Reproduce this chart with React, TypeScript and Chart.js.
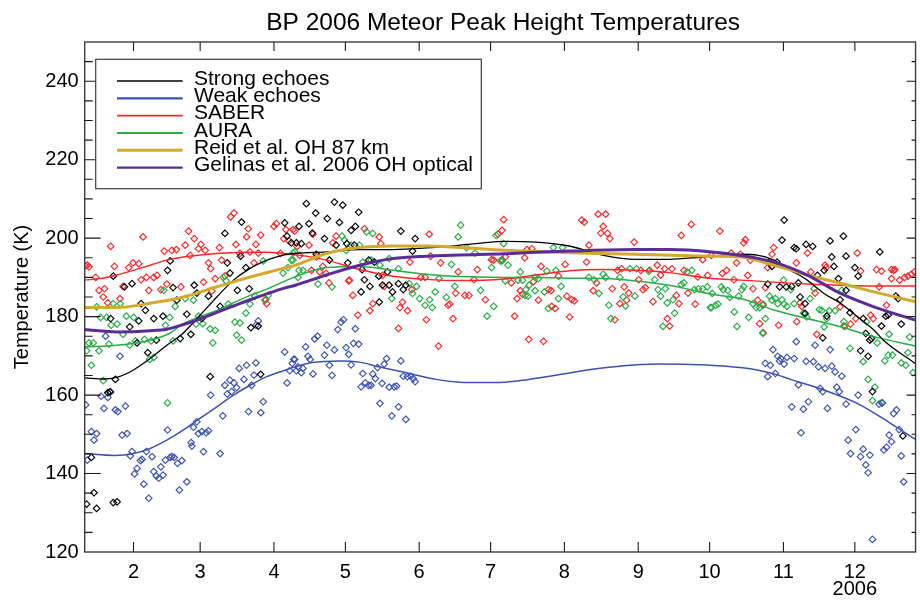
import React, { useEffect, useRef } from 'react';
import { Chart, registerables } from 'chart.js';

Chart.register(...registerables);

const TITLE = 'BP 2006 Meteor Peak Height Temperatures';
const Y_TITLE = 'Temperature (K)';
const MONTH_TICKS = [32, 60, 91, 121, 152, 182, 213, 244, 274, 305, 335];
const MONTH_LABELS = ['2', '3', '4', '5', '6', '7', '8', '9', '10', '11', '12'];
const YEAR_LABEL = '2006';
const Y_MAJOR = [120, 140, 160, 180, 200, 220, 240];
const Y_MINOR_STEP = 5;
const X_MIN = 11.5;
const X_MAX = 360.5;
const Y_MIN = 120;
const Y_MAX = 250;

const LEGEND_LABELS = [
  'Strong echoes',
  'Weak echoes',
  'SABER',
  'AURA',
  'Reid et al. OH 87 km',
  'Gelinas et al. 2006 OH optical',
];

// fitted curves [day of year, K]
const STRONG_FIT = [[11.5,164.4],[20,164.1],[26,164.7],[32,166.4],[39,169.3],[46,172.7],[52,175.3],[60,180.4],[67,185],[74,189.3],[81,192.3],[88,194.4],[95,195.7],[100,196.1],[113,196.5],[127,197.1],[141,197.1],[155,197.5],[176,198.6],[188,199.2],[201,199],[215,198],[229,195.7],[243,194.6],[257,194.6],[271,195.2],[287,195.9],[294,195.7],[301,194.4],[308,191.8],[315,189.3],[322,185.9],[329,183.4],[336,180],[343,176.6],[347,174],[360.5,168]];
const WEAK_FIT = [[11.5,145.1],[24,144.6],[32,145.1],[39,146.4],[46,148.5],[53,151.1],[60,154.1],[67,157],[74,160],[81,162.5],[88,164.7],[95,166.2],[100,167.2],[107,168.3],[119,168.7],[127,168.4],[135,167.2],[148,165.5],[159,164],[169,163.3],[177,163.2],[188,163.3],[196,163.8],[210,165.1],[224,166.5],[238,167.5],[252,167.9],[266,167.8],[280,167.4],[294,166.4],[301,165.4],[308,164],[322,161.3],[336,157.9],[350,152.8],[360.5,148.7]];
const SABER_FIT = [[11.5,189.3],[18,189.7],[25,190.6],[32,191.8],[39,193.1],[46,194.4],[53,195.2],[67,196.1],[74,196.3],[81,196.4],[88,196.4],[95,196.1],[100,195.8],[113,194.4],[127,192],[141,190.3],[155,189.5],[169,189.2],[188,189.6],[201,190.6],[215,191.7],[229,192],[243,191.8],[257,191.2],[275,189.7],[287,189.3],[315,188.3],[343,187.8],[360.5,187.8]];
const AURA_FIT = [[11.5,172.3],[25,172.7],[39,174],[47,175.7],[53,178.2],[67,181.6],[81,185.4],[88,187],[100,190.2],[113,192.5],[127,192.8],[141,191.8],[155,190.8],[169,190.2],[188,190],[201,190],[215,189.8],[229,189.7],[243,189.1],[257,188],[275,185.7],[287,184.6],[301,181.7],[315,179.5],[329,177.4],[343,174.9],[360.5,172.5]];
const REID_FIT = [[11.5,182.3],[25,182.3],[39,183.4],[53,185],[67,187.6],[81,190.1],[95,192.3],[100,193.1],[113,196.1],[127,197.6],[141,198],[155,198],[169,197.6],[188,196.9],[215,196.3],[243,195.9],[275,195.4],[287,195.2],[301,193.1],[315,190.6],[329,188.5],[343,186.3],[360.5,183.8]];
const GELINAS_FIT = [[11.5,176.7],[25,176.1],[39,176.4],[46,176.8],[53,178],[60,179.4],[67,181.1],[74,182.7],[81,184.3],[88,185.8],[95,187.2],[100,188],[113,190.6],[127,193.1],[141,194.8],[155,195.4],[169,195.7],[188,196],[201,196.4],[215,196.7],[243,197.1],[257,197.1],[275,196.5],[287,195.6],[301,193.9],[315,190.6],[329,185.9],[343,182.5],[360.5,179.1]];

// measurements [day of year, K]
const STRONG_PTS = [[23.5,190.3],[28.2,187.6],[31.4,188.4],[35.2,183.3],[37.0,181.6],[40.5,179.5],[34.2,178.9],[30.4,177.4],[22.4,179.5],[44.4,180.1],[46.3,191.8],[47.4,194.2],[48.6,187.4],[50.2,184.2],[54.4,180.6],[56.1,175.5],[57.5,188.0],[58.6,186.0],[60.7,179.5],[63.5,185.2],[68.4,182.6],[70.4,201.2],[71.4,193.7],[72.5,191.1],[75.6,186.7],[77.4,204.1],[77.0,195.4],[79.2,192.5],[80.6,187.1],[81.3,177.2],[84.4,177.6],[95.5,203.9],[96.5,200.5],[98.3,198.8],
[24.4,164.0],[38.0,170.8],[64.2,164.7],[85.4,165.3],[21.2,160.6],[22.1,160.8],[14.3,144.1],[15.4,135.1],[12.3,132.2],[16.5,131.1],[25.1,132.8],[23.5,132.6],[41.6,174.0],[51.6,174.4],[33.5,173.3],
[104.6,208.8],[116.4,209.2],[119.9,208.4],[108.5,206.4],[113.4,205.0],[118.5,204.0],[126.6,206.6],[101.5,203.0],[105.7,203.7],[107.1,201.3],[112.2,199.9],[123.4,202.0],[125.2,203.0],[100.4,198.8],[102.5,198.6],[117.1,198.2],[121.6,198.6],[124.8,198.2],[108.8,195.9],[114.3,194.4],[122.0,193.7],[128.0,192.0],[129.0,189.4],[130.8,194.4],[133.2,193.9],[131.3,187.7],[135.0,190.3],[136.6,188.0],[138.7,191.4],[139.4,188.0],[140.8,186.3],[143.3,188.4],[145.3,186.9],[146.4,188.0],[144.3,201.8],[150.3,199.9],[149.2,196.7],[135.2,183.7],[127.6,186.3],
[305.3,204.6],[304.4,199.5],[309.5,197.6],[310.4,197.3],[314.5,198.4],[317.3,197.9],[324.6,199.3],[330.2,200.5],[345.5,196.5],[325.3,195.2],[331.3,195.4],[298.8,193.9],[302.3,193.9],[300.2,192.8],[298.4,188.3],[303.4,187.6],[306.2,187.6],[308.5,187.7],[311.3,188.6],[312.0,185.0],[314.1,183.3],[314.1,180.8],[319.3,190.5],[322.1,191.8],[326.2,192.8],[328.1,189.7],[335.0,192.5],[336.4,190.3],[331.3,186.7],[328.8,184.3],[323.2,180.1],[333.0,181.0],[338.5,179.5],[352.2,185.2],[353.2,184.6],[349.0,180.4],[348.0,180.1],[346.2,177.6],[342.0,174.4],[321.5,174.6],
[337.4,171.3],[340.6,169.9],[342.4,160.9],[355.2,149.6],[339.6,175.7],[341.3,174.0],[354.5,178.1]];

const WEAK_PTS = [[20.3,175.0],[84.4,178.9],[83.4,177.8],
[26.3,169.9],[11.9,157.5],[18.4,159.7],[21.2,159.4],[22.4,160.8],[19.6,156.6],[24.4,156.2],[25.4,155.8],[28.6,157.2],[14.3,150.7],[16.5,150.2],[15.4,148.5],[12.6,143.4],[27.2,149.8],[29.3,150.2],[30.7,144.5],[31.4,145.6],[33.5,141.3],[32.4,139.9],[34.9,143.3],[35.6,143.6],[36.3,137.3],[37.4,145.6],[38.4,133.7],[39.8,144.3],[40.5,140.5],[41.6,139.4],[42.6,138.8],[43.5,141.7],[44.4,139.6],[45.4,143.4],[46.3,151.1],[47.4,144.1],[48.1,144.3],[49.1,144.1],[50.5,142.6],[51.3,135.8],[52.3,143.3],[54.4,137.9],[56.2,147.9],[56.5,147.0],[57.2,151.8],[58.6,153.2],[59.3,150.2],[60.7,150.7],[62.5,150.4],[63.5,150.9],[61.4,145.6],[64.4,160.0],[68.4,145.1],[69.5,154.7],[70.4,162.5],[71.4,160.3],[72.5,163.8],[73.2,160.9],[74.2,163.1],[75.3,161.9],[76.4,166.8],[78.4,164.0],[79.5,167.6],[80.3,155.8],[81.6,162.5],[82.6,165.1],[83.4,168.2],[85.5,155.5],[86.5,158.3],[95.5,171.0],[96.5,163.1],[97.6,166.2],[98.7,168.1],[99.3,169.1],
[120.2,179.2],[119.2,178.6],[117.8,176.7],[125.2,176.9],[109.3,175.0],[108.1,174.3],
[104.3,172.3],[113.2,172.7],[116.4,171.5],[121.3,172.1],[124.4,173.2],[126.6,173.0],[122.4,170.4],[112.2,170.2],[105.3,169.9],[106.2,169.1],[99.7,169.1],[101.1,167.2],[103.2,166.8],[100.4,166.2],[102.5,165.7],[107.4,165.4],[114.3,167.6],[115.4,165.0],[123.4,167.7],[128.3,165.5],[129.4,163.1],[127.6,162.1],[130.8,162.5],[131.8,162.5],[132.5,165.4],[133.6,164.2],[134.5,167.0],[136.4,163.0],[137.3,167.9],[138.3,169.3],[139.4,162.0],[141.5,162.1],[142.5,162.3],[144.3,168.7],[145.3,164.8],[147.1,164.7],[148.5,164.8],[149.5,164.2],[150.3,163.4],[135.5,157.9],[143.3,157.0],[140.5,154.7],[146.4,153.8],
[310.4,173.6],[318.3,172.7],[324.6,171.6],[300.6,171.6],[302.6,169.9],[303.9,169.3],[303.4,168.7],[305.3,167.9],[306.5,169.6],[309.5,169.3],[314.5,168.6],[317.6,168.5],[319.7,167.2],[322.5,166.8],[325.3,167.4],[326.7,165.9],[329.5,164.8],[297.4,168.1],[299.5,167.6],[301.6,165.5],[298.4,164.7],[311.3,162.6],[320.4,161.7],[321.5,160.9],[327.4,162.0],[328.5,160.9],[336.4,160.0],[331.3,157.7],[315.5,158.3],[313.4,156.4],[308.5,157.0],[323.5,156.6],[345.2,157.7],[346.6,158.0],[351.3,155.3],[352.5,156.2],[335.4,151.2],[353.6,151.2],[349.4,149.8],[350.4,148.1],[332.2,148.5],[312.4,150.4],[338.5,146.2],[337.4,144.3],[341.3,144.7],[333.2,145.1],[348.3,146.7],[347.2,146.0],[354.5,144.5],[339.6,142.2],[340.6,140.2],[355.5,137.9],[342.4,123.2]];

const SABER_PTS = [[11.8,192.9],[12.6,193.1],[13.3,192.7],[16.1,190.0],[17.5,186.7],[19.8,187.1],[19.3,185.0],[21.2,183.5],[24.0,192.8],[26.3,184.6],[27.6,187.7],[22.4,197.9],[30.0,192.5],[31.8,193.7],[34.2,193.5],[36.0,200.3],[35.2,189.4],[37.4,190.0],[38.4,186.7],[40.5,190.0],[41.9,190.5],[43.5,186.9],[44.9,196.7],[46.0,188.3],[48.1,196.9],[50.0,197.1],[51.9,187.6],[53.7,198.2],[55.1,201.8],[55.8,195.6],[57.5,199.9],[59.3,197.3],[60.3,198.4],[62.1,196.9],[61.4,188.8],[63.5,193.7],[64.4,192.2],[64.9,186.5],[66.3,189.7],[68.1,197.6],[69.0,194.4],[70.4,190.3],[72.8,205.4],[74.2,206.4],[75.0,198.4],[76.7,196.1],[79.5,200.3],[80.2,202.4],[80.9,196.5],[82.6,193.7],[83.4,198.4],[84.4,196.2],[85.4,200.8],[87.2,184.2],[87.9,183.3],[91.0,203.0],[92.0,203.7],[93.7,196.1],[95.1,199.9],[96.0,202.2],[97.3,199.3],[99.0,202.2],
[99.7,201.8],[107.4,201.0],[100.7,197.9],[105.7,198.2],[101.8,195.6],[108.8,195.2],[111.5,192.8],[106.7,191.8],[110.2,191.4],[112.9,191.0],[114.1,188.6],[115.7,198.8],[117.1,200.5],[122.4,189.1],[122.7,189.3],[124.1,185.4],[126.2,180.4],[129.0,202.4],[132.5,183.3],[131.3,181.5],[135.2,200.3],[135.9,198.6],[137.3,187.7],[136.6,190.5],[143.9,182.3],[147.1,181.5],[145.0,183.7],[148.1,193.9],[148.9,186.9],[152.7,190.0],[154.5,190.0],[156.2,201.0],[156.8,195.4],[155.0,179.2],[161.0,193.7],[164.2,182.9],[164.8,183.2],[166.2,179.5],[167.3,186.0],[168.4,191.4],[171.2,185.4],[172.9,185.4],[175.0,189.4],[176.4,192.0],[179.8,184.3],[182.4,194.5],[183.3,194.4],[185.1,201.0],[186.8,194.5],[143.3,177.0],[160.1,172.5],
[187.5,204.7],[186.8,202.0],[227.2,206.1],[230.3,206.1],[220.3,204.6],[221.4,204.1],[229.3,203.0],[228.3,201.3],[231.1,201.2],[232.1,199.9],[223.3,198.2],[242.3,199.0],[266.3,203.5],[262.1,200.7],[188.2,195.2],[196.3,195.0],[197.3,197.1],[199.3,197.3],[222.3,193.9],[213.3,193.3],[203.2,192.8],[190.7,188.6],[194.5,186.6],[193.1,184.6],[195.4,185.7],[200.0,188.9],[202.1,184.2],[206.3,186.9],[207.4,186.6],[210.5,190.3],[214.0,185.2],[216.1,184.3],[217.2,184.0],[207.7,182.6],[209.1,182.1],[192.1,180.1],[215.2,179.9],[225.1,186.6],[226.5,188.6],[233.1,187.1],[234.2,179.2],[236.3,183.3],[239.1,184.2],[238.1,187.6],[240.0,186.0],[235.3,191.8],[237.0,192.2],[244.2,189.4],[245.1,191.8],[246.0,186.9],[247.0,187.4],[248.8,191.8],[250.2,183.8],[252.0,193.1],[253.4,190.6],[255.1,192.2],[258.2,192.2],[260.0,185.4],[261.1,183.3],[263.2,191.8],[264.9,186.0],[267.9,183.2],[269.0,190.1],[271.1,194.5],[273.2,190.5],[256.2,179.5],[257.2,177.6],[198.0,174.2],[204.2,173.7],
[278.3,201.8],[288.3,198.8],[289.0,199.6],[274.7,195.6],[283.0,196.2],[286.9,195.9],[291.1,194.4],[285.3,193.7],[279.3,191.0],[281.1,191.8],[290.0,190.5],[284.2,189.4],[300.2,195.9],[300.9,197.6],[298.4,192.5],[310.4,193.7],[315.1,196.2],[316.5,191.4],[292.2,187.1],[297.4,187.4],[294.2,184.2],[296.4,182.9],[295.0,178.2],[303.0,177.8],[296.4,175.9],[312.0,183.5],[312.7,182.6],[310.6,178.7],[318.3,186.0],[319.0,175.5],[322.5,193.1],[322.9,192.5],[328.8,182.5],[330.4,177.6],[333.2,178.1],[336.0,196.2],[337.4,191.6],[341.6,180.4],[342.7,179.5],[344.1,192.0],[346.2,191.6],[345.2,187.6],[350.4,192.0],[351.3,191.8],[351.8,192.0],[350.4,189.7],[353.8,189.3],[355.9,190.0],[357.3,190.3],[358.7,190.8],[360.1,191.4],[348.3,182.9],[335.4,179.5]];

const AURA_PTS = [[16.5,182.5],[18.2,179.8],[20.7,179.8],[22.6,177.8],[23.5,183.3],[25.1,178.1],[26.5,183.3],[27.6,175.5],[29.0,180.1],[32.1,179.8],[44.7,186.7],[45.4,177.8],[47.2,179.8],[49.5,182.6],[53.7,184.6],[57.2,184.2],[58.3,178.1],[59.3,180.1],[61.1,178.2],[64.2,176.9],[66.3,176.5],[69.7,190.0],[70.9,189.1],[71.8,183.2],[74.6,178.6],[75.3,175.3],[76.7,178.4],[79.2,180.9],[80.9,183.2],[83.0,185.2],[86.5,194.2],[87.6,184.3],[88.6,185.4],[94.8,191.1],[96.9,192.5],[98.3,194.4],[99.0,196.2],
[13.3,173.3],[15.1,173.3],[12.3,171.3],[17.5,171.3],[21.7,173.0],[14.3,167.6],[19.3,163.7],[30.4,172.7],[32.8,173.8],[36.6,174.2],[39.4,173.8],[38.8,169.1],[40.5,169.6],[46.3,158.0],[48.6,173.8],[65.3,173.3],[77.4,174.0],
[99.7,196.5],[99.0,194.4],[101.5,191.8],[103.2,191.8],[101.1,190.0],[109.5,188.3],[115.4,187.6],[114.3,194.4],[119.6,200.5],[120.6,199.5],[121.3,196.9],[123.4,198.2],[126.9,198.2],[129.9,201.6],[132.5,201.2],[131.8,194.4],[128.3,193.9],[135.5,193.1],[139.4,194.8],[140.5,184.6],[143.3,192.2],[147.8,188.4],[149.2,185.9],[150.9,187.7],[152.2,184.6],[154.5,182.9],[156.4,184.3],[157.5,182.3],[158.7,186.3],[160.3,189.7],[163.4,184.9],[165.6,193.3],[167.0,187.7],[168.4,200.3],[169.4,203.3],[171.8,197.6],[175.4,196.2],[177.8,186.7],[180.5,180.1],[182.4,192.5],[183.3,182.6],[184.3,200.7],[186.1,194.2],
[187.5,198.6],[186.8,194.2],[189.3,193.1],[188.2,189.1],[193.5,189.3],[194.5,191.4],[195.4,189.3],[196.8,186.9],[198.2,188.0],[200.7,190.0],[202.1,189.7],[196.6,185.4],[197.7,185.2],[200.7,186.6],[204.6,186.3],[205.6,191.6],[208.4,197.6],[212.2,197.6],[209.4,191.8],[211.6,187.7],[210.5,184.6],[206.3,182.1],[223.3,190.0],[225.5,189.4],[227.5,185.9],[229.3,190.8],[230.3,190.0],[231.7,182.9],[232.5,179.5],[236.3,190.0],[237.7,185.0],[238.7,182.7],[240.5,192.2],[242.6,185.2],[243.3,192.2],[248.4,191.6],[250.9,189.4],[252.3,186.9],[253.4,185.2],[255.4,187.1],[256.2,183.5],[258.6,184.3],[259.3,180.9],[254.4,177.5],[262.1,188.2],[263.2,188.6],[264.6,191.4],[266.5,191.8],[267.6,186.9],[269.3,187.1],[271.1,187.1],[274.3,182.3],
[273.0,187.6],[275.1,185.9],[278.9,187.6],[279.7,186.9],[281.6,186.7],[282.5,184.9],[286.2,185.2],[287.6,186.9],[288.3,187.7],[274.7,182.3],[276.5,182.9],[277.5,183.2],[284.4,181.2],[285.5,177.5],[290.4,179.8],[292.2,183.3],[293.6,182.3],[295.0,182.3],[296.4,183.2],[297.4,179.5],[299.2,185.2],[300.2,184.2],[301.6,184.6],[302.6,183.3],[304.4,184.3],[305.3,183.2],[306.5,182.6],[305.1,189.3],[308.1,186.9],[309.5,183.3],[313.4,180.9],[314.8,179.9],[316.2,184.6],[317.9,187.1],[320.1,181.8],[321.1,181.6],[322.1,177.4],[323.2,179.5],[324.3,181.5],[326.7,181.5],[329.5,186.7],[330.4,178.7],[330.8,177.5],[339.9,178.7],[349.4,175.5],[358.0,174.8],
[296.4,175.7],[333.0,171.9],[338.5,168.5],[340.6,164.0],[343.4,162.0],[342.4,158.6],[346.2,158.0],[347.6,168.7],[349.0,170.2],[350.8,170.2],[354.5,168.2],[356.4,167.6],[359.4,165.7],[344.4,173.3],[357.3,170.8]];

const COLORS = {
  strong: '#000000',
  weak: '#3b52b2',
  saber: '#ff2626',
  aura: '#26ad45',
  reid: '#d3aa2e',
  gelinas: '#5a2c98',
};

const FONT = '"Liberation Sans", Arial, Helvetica, sans-serif';

const toXY = (pts: number[][]) => pts.map(([x, y]) => ({ x, y }));

function lineSet(label: string, legendIndex: number, pts: number[][], color: string, width: number, legendWidth: number, order: number) {
  return {
    type: 'line' as const,
    label,
    legendIndex,
    legendWidth,
    data: toXY(pts),
    borderColor: color,
    backgroundColor: color,
    borderWidth: width,
    pointRadius: 0,
    pointHoverRadius: 0,
    fill: false,
    cubicInterpolationMode: 'monotone' as const,
    order,
  };
}

function pointSet(label: string, pts: number[][], color: string, order: number) {
  return {
    type: 'scatter' as const,
    label,
    data: toXY(pts),
    showLine: false,
    pointStyle: 'rectRot' as const,
    pointRadius: 3.3,
    pointHoverRadius: 3.3,
    pointBorderWidth: 1.15,
    pointBorderColor: color,
    pointBackgroundColor: 'rgba(0,0,0,0)',
    borderColor: color,
    backgroundColor: 'rgba(0,0,0,0)',
    order,
  };
}

const decorPlugin = {
  id: 'decor',
  afterDatasetsDraw(chart: any) {
    const { ctx, chartArea: a, scales } = chart;
    const xs = scales.x;
    const ys = scales.y;
    ctx.save();

    // frame
    ctx.strokeStyle = '#3c3c3c';
    ctx.lineWidth = 1.4;
    ctx.strokeRect(a.left, a.top, a.right - a.left, a.bottom - a.top);

    // inward ticks
    ctx.strokeStyle = '#1a1a1a';
    ctx.lineWidth = 1.1;
    ctx.beginPath();
    MONTH_TICKS.forEach((v) => {
      const px = xs.getPixelForValue(v);
      ctx.moveTo(px, a.bottom);
      ctx.lineTo(px, a.bottom - 10);
      ctx.moveTo(px, a.top);
      ctx.lineTo(px, a.top + 9);
    });
    for (let v = Y_MIN + Y_MINOR_STEP; v < Y_MAX; v += Y_MINOR_STEP) {
      const py = ys.getPixelForValue(v);
      const major = Y_MAJOR.includes(v);
      ctx.moveTo(a.left, py);
      ctx.lineTo(a.left + (major ? 16 : 8), py);
      ctx.moveTo(a.right, py);
      ctx.lineTo(a.right - (major ? 9 : 4), py);
    }
    ctx.stroke();

    // legend
    const bx = 95.7, by = 59.3, bw = 385.6, bh = 129.4;
    ctx.fillStyle = '#ffffff';
    ctx.fillRect(bx, by, bw, bh);
    ctx.strokeStyle = '#3c3c3c';
    ctx.lineWidth = 1.2;
    ctx.strokeRect(bx, by, bw, bh);
    ctx.font = `21px ${FONT}`;
    ctx.textAlign = 'left';
    ctx.textBaseline = 'alphabetic';
    const items = chart.data.datasets.filter((d: any) => d.legendIndex !== undefined)
      .sort((p: any, q: any) => p.legendIndex - q.legendIndex);
    items.forEach((d: any, i: number) => {
      const ly = 81 + i * 17.33;
      ctx.strokeStyle = d.borderColor;
      ctx.lineWidth = d.legendWidth;
      ctx.beginPath();
      ctx.moveTo(117, ly);
      ctx.lineTo(182.7, ly);
      ctx.stroke();
      ctx.fillStyle = '#000';
      ctx.fillText(d.label, 194, ly + 3.8);
    });
    ctx.restore();
  },
  afterDraw(chart: any) {
    const { ctx, chartArea: a } = chart;
    ctx.save();
    ctx.fillStyle = '#000';
    ctx.font = `24.5px ${FONT}`;
    ctx.textAlign = 'center';
    ctx.textBaseline = 'alphabetic';
    ctx.fillText(TITLE, (a.left + a.right) / 2 + 3, 30);
    ctx.font = `20px ${FONT}`;
    ctx.translate(28, (a.top + a.bottom) / 2);
    ctx.rotate(-Math.PI / 2);
    ctx.fillText(Y_TITLE, 0, 0);
    ctx.restore();
  },
};

export default function App() {
  const ref = useRef<HTMLCanvasElement | null>(null);

  useEffect(() => {
    document.body.style.margin = '0';
    const canvas = ref.current;
    if (!canvas) return;

    const datasets: any[] = [
      lineSet(LEGEND_LABELS[5], 5, GELINAS_FIT, COLORS.gelinas, 3, 2.2, 0),
      lineSet(LEGEND_LABELS[4], 4, REID_FIT, COLORS.reid, 3, 3, 1),
      lineSet(LEGEND_LABELS[0], 0, STRONG_FIT, COLORS.strong, 1.3, 1.6, 2),
      lineSet(LEGEND_LABELS[2], 2, SABER_FIT, COLORS.saber, 1.4, 1.8, 3),
      lineSet(LEGEND_LABELS[3], 3, AURA_FIT, COLORS.aura, 1.5, 1.8, 4),
      lineSet(LEGEND_LABELS[1], 1, WEAK_FIT, COLORS.weak, 1.5, 2.2, 5),
      pointSet('Strong pts', STRONG_PTS, COLORS.strong, 10),
      pointSet('Weak pts', WEAK_PTS, COLORS.weak, 11),
      pointSet('AURA pts', AURA_PTS, COLORS.aura, 12),
      pointSet('SABER pts', SABER_PTS, COLORS.saber, 13),
    ];

    const chart = new Chart(canvas, {
      type: 'scatter',
      data: { datasets },
      plugins: [decorPlugin],
      options: {
        animation: false,
        responsive: false,
        devicePixelRatio: 1,
        events: [],
        layout: { padding: { top: 42, right: 1, left: 0, bottom: 0 } },
        plugins: {
          legend: { display: false },
          title: { display: false },
          tooltip: { enabled: false },
        },
        scales: {
          x: {
            type: 'linear',
            position: 'bottom',
            min: X_MIN,
            max: X_MAX,
            grid: { display: false, drawTicks: false },
            border: { display: false },
            afterBuildTicks: (scale: any) => {
              scale.ticks = MONTH_TICKS.map((v) => ({ value: v }));
            },
            afterFit: (scale: any) => {
              scale.height = 49;
            },
            ticks: {
              autoSkip: false,
              maxRotation: 0,
              minRotation: 0,
              padding: 12.5,
              color: '#000',
              font: { family: FONT, size: 20, lineHeight: 0.835 },
              callback: (value: any) => {
                const idx = MONTH_TICKS.indexOf(Number(value));
                if (idx < 0) return '';
                return idx === MONTH_TICKS.length - 1 ? [MONTH_LABELS[idx], YEAR_LABEL] : MONTH_LABELS[idx];
              },
            },
          },
          y: {
            type: 'linear',
            position: 'left',
            min: Y_MIN,
            max: Y_MAX,
            grid: { display: false, drawTicks: false },
            border: { display: false },
            afterBuildTicks: (scale: any) => {
              scale.ticks = Y_MAJOR.map((v) => ({ value: v }));
            },
            afterFit: (scale: any) => {
              scale.width = 84.7;
            },
            ticks: {
              padding: 6,
              color: '#000',
              font: { family: FONT, size: 20 },
              callback: (value: any) => String(value),
            },
          },
        },
      },
    });

    return () => {
      chart.destroy();
    };
  }, []);

  return (
    <div style={{ width: 920, height: 601 }}>
      <canvas ref={ref} width={920} height={601} style={{ display: 'block', width: 920, height: 601 }} />
    </div>
  );
}
